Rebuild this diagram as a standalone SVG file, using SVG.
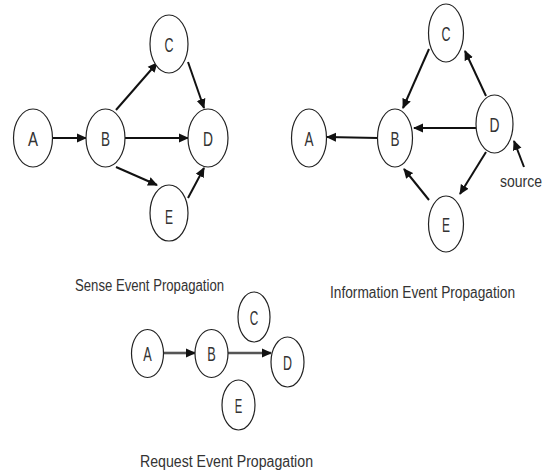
<svg xmlns="http://www.w3.org/2000/svg" width="552" height="472" viewBox="0 0 552 472">
<defs>
<marker id="ah" viewBox="0 0 10 10" refX="9" refY="5" markerWidth="10" markerHeight="10" markerUnits="userSpaceOnUse" orient="auto">
<path d="M0,0.5 L10,5 L0,9.5 Z" fill="#111"/>
</marker>
<style>
.n ellipse{fill:#fff;stroke:#222;stroke-width:1.2}
.n text{font-family:"Liberation Sans",sans-serif;font-size:21px;fill:#333;text-anchor:middle}
.r text{font-size:20px}
.e line{stroke:#111;stroke-width:2;marker-end:url(#ah)}
.e line.g{stroke:#555;stroke-width:2.6}
.t{font-family:"Liberation Sans",sans-serif;font-size:16px;fill:#333}
</style>
</defs>
<rect width="552" height="472" fill="#fff"/>

<!-- Sense Event Propagation -->
<g class="e" id="sense-edges">
<line x1="53" y1="138" x2="86" y2="138"/>
<line x1="116" y1="110" x2="157" y2="63"/>
<line x1="125" y1="138" x2="188" y2="138"/>
<line x1="116" y1="167" x2="157" y2="185"/>
<line x1="188" y1="62" x2="204" y2="108"/>
<line x1="188" y1="198" x2="204" y2="168"/>
</g>
<g class="n" id="s-A"><ellipse cx="33" cy="138" rx="19.5" ry="29"/><text x="33" y="146" textLength="10" lengthAdjust="spacingAndGlyphs">A</text></g>
<g class="n" id="s-B"><ellipse cx="105.5" cy="138" rx="19.5" ry="29"/><text x="105.5" y="146" textLength="9" lengthAdjust="spacingAndGlyphs">B</text></g>
<g class="n" id="s-C"><ellipse cx="169" cy="44" rx="19" ry="29"/><text x="169" y="52" textLength="9" lengthAdjust="spacingAndGlyphs">C</text></g>
<g class="n" id="s-D"><ellipse cx="208" cy="138" rx="20" ry="29"/><text x="208" y="146" textLength="10" lengthAdjust="spacingAndGlyphs">D</text></g>
<g class="n" id="s-E"><ellipse cx="169" cy="213" rx="19" ry="28"/><text x="169" y="224" textLength="8" lengthAdjust="spacingAndGlyphs">E</text></g>
<text class="t" x="75" y="291" textLength="149" lengthAdjust="spacingAndGlyphs">Sense Event Propagation</text>

<!-- Information Event Propagation -->
<g class="e" id="info-edges">
<line x1="378" y1="138" x2="327" y2="137"/>
<line x1="429" y1="49" x2="403" y2="108"/>
<line x1="476" y1="128" x2="414" y2="128"/>
<line x1="486" y1="96" x2="465" y2="51"/>
<line x1="486" y1="152" x2="460" y2="194"/>
<line x1="429" y1="200" x2="404" y2="169"/>
<line x1="524" y1="167" x2="514" y2="141"/>
</g>
<g class="n" id="i-A"><ellipse cx="309" cy="138" rx="17.5" ry="29"/><text x="309" y="146" textLength="9" lengthAdjust="spacingAndGlyphs">A</text></g>
<g class="n" id="i-B"><ellipse cx="395" cy="138" rx="17.5" ry="29"/><text x="395" y="146" textLength="9" lengthAdjust="spacingAndGlyphs">B</text></g>
<g class="n" id="i-C"><ellipse cx="446" cy="33" rx="17.5" ry="29"/><text x="446" y="41" textLength="9" lengthAdjust="spacingAndGlyphs">C</text></g>
<g class="n" id="i-D"><ellipse cx="494.5" cy="124" rx="18.5" ry="29"/><text x="494.5" y="132" textLength="10" lengthAdjust="spacingAndGlyphs">D</text></g>
<g class="n" id="i-E"><ellipse cx="446" cy="224" rx="17.5" ry="28"/><text x="446" y="232" textLength="8" lengthAdjust="spacingAndGlyphs">E</text></g>
<text class="t" x="500" y="187" textLength="42" lengthAdjust="spacingAndGlyphs">source</text>
<text class="t" x="330" y="298" textLength="185" lengthAdjust="spacingAndGlyphs">Information Event Propagation</text>

<!-- Request Event Propagation -->
<g class="e" id="req-edges">
<line class="g" x1="163" y1="353" x2="195" y2="353"/>
<line class="g" x1="228" y1="353" x2="271" y2="353"/>
</g>
<g class="n r" id="r-A"><ellipse cx="147.5" cy="353.5" rx="16" ry="24"/><text x="147.5" y="361" textLength="8.5" lengthAdjust="spacingAndGlyphs">A</text></g>
<g class="n r" id="r-B"><ellipse cx="211.5" cy="353.5" rx="16.5" ry="24"/><text x="211.5" y="361" textLength="8.5" lengthAdjust="spacingAndGlyphs">B</text></g>
<g class="n r" id="r-C"><ellipse cx="254" cy="317" rx="16" ry="25"/><text x="254" y="325" textLength="8.5" lengthAdjust="spacingAndGlyphs">C</text></g>
<g class="n r" id="r-D"><ellipse cx="287.5" cy="362" rx="16.5" ry="25"/><text x="287.5" y="370" textLength="9" lengthAdjust="spacingAndGlyphs">D</text></g>
<g class="n r" id="r-E"><ellipse cx="238.5" cy="405" rx="16.5" ry="25"/><text x="238.5" y="413" textLength="7.5" lengthAdjust="spacingAndGlyphs">E</text></g>
<text class="t" x="140" y="467" textLength="173" lengthAdjust="spacingAndGlyphs">Request Event Propagation</text>
</svg>
